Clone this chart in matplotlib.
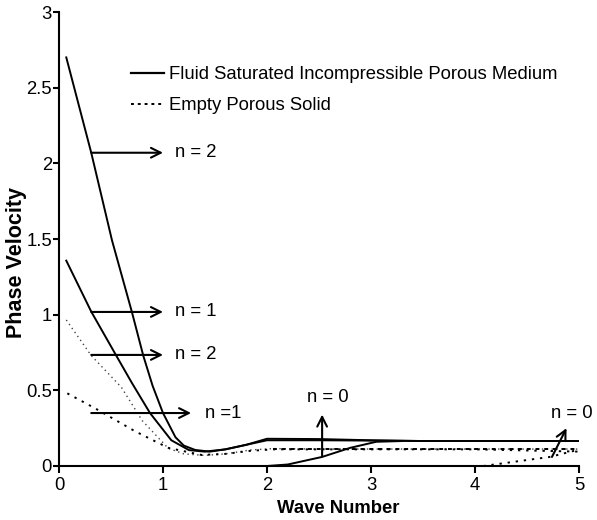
import matplotlib
matplotlib.use("Agg")
import matplotlib.pyplot as plt
from matplotlib.ticker import FuncFormatter

plt.rcParams['font.family'] = ['Liberation Sans', 'DejaVu Sans']

# Fluid saturated incompressible porous medium (solid lines)
fluid_n2_x = [0.07, 0.31, 0.51, 0.70, 0.81, 0.90, 1.00, 1.12, 1.20, 1.31, 1.45, 1.60, 1.80, 2.00, 2.50, 3.00, 3.50, 4.00, 5.00]
fluid_n2_y = [2.70, 2.07, 1.49, 1.02, 0.73, 0.53, 0.35, 0.19, 0.135, 0.106, 0.095, 0.11, 0.14, 0.18, 0.178, 0.17, 0.165, 0.165, 0.165]
fluid_n1_x = [0.07, 0.31, 0.55, 0.70, 0.875, 1.08, 1.25, 1.40, 1.60, 1.80, 2.00, 2.50, 3.00, 3.50, 4.00, 5.00]
fluid_n1_y = [1.357, 1.02, 0.73, 0.55, 0.35, 0.17, 0.105, 0.095, 0.11, 0.14, 0.17, 0.17, 0.168, 0.165, 0.165, 0.165]
fluid_n0_x = [2.00, 2.20, 2.53, 2.80, 3.05, 3.30]
fluid_n0_y = [0.00, 0.01, 0.06, 0.12, 0.16, 0.165]

# Empty porous solid (dotted lines)
empty_n2_x = [0.07, 0.31, 0.60, 0.80, 1.05, 1.20, 1.40, 1.60, 1.84, 2.06, 2.50, 3.00, 4.00, 5.00]
empty_n2_y = [0.965, 0.73, 0.52, 0.30, 0.117, 0.08, 0.07, 0.08, 0.106, 0.115, 0.112, 0.112, 0.112, 0.112]
empty_n1_x = [0.08, 0.35, 0.73, 1.05, 1.37, 1.60, 1.84, 2.06, 3.00, 4.00, 5.00]
empty_n1_y = [0.48, 0.38, 0.23, 0.12, 0.073, 0.08, 0.10, 0.11, 0.11, 0.11, 0.095]
empty_n0_x = [4.08, 4.40, 4.72, 4.98]
empty_n0_y = [0.00, 0.03, 0.06, 0.105]

legend_labels = ["Fluid Saturated Incompressible Porous Medium", "Empty Porous Solid"]

fig = plt.figure(figsize=(5.97, 5.20), dpi=100)
ax = fig.add_axes([59/597, 54/520, 520/597, 454/520])

lw = 1.4
ax.plot(fluid_n2_x, fluid_n2_y, color='black', lw=lw)
ax.plot(fluid_n1_x, fluid_n1_y, color='black', lw=lw)
ax.plot(fluid_n0_x, fluid_n0_y, color='black', lw=lw)
ax.plot(empty_n2_x, empty_n2_y, color='#444444', lw=1.0, ls=(0, (1, 2.5)))
ax.plot(empty_n1_x, empty_n1_y, color='black', lw=1.4, ls=(0, (1.2, 3)))
ax.plot(empty_n0_x, empty_n0_y, color='black', lw=1.4, ls=(0, (1.2, 3)))
ax.plot([2.06, 5.0], [0.112, 0.112], color='black', lw=1.4, ls=(0, (2, 2.5)))

ax.set_xlim(0, 5)
ax.set_ylim(0, 3)
ax.set_xticks([0, 1, 2, 3, 4, 5])
ax.set_yticks([0, 0.5, 1, 1.5, 2, 2.5, 3])
ax.yaxis.set_major_formatter(FuncFormatter(lambda v, p: f"{v:g}"))
for s in ['top', 'right']:
    ax.spines[s].set_visible(False)
for s in ['left', 'bottom']:
    ax.spines[s].set_linewidth(1.5)
ax.tick_params(axis='both', direction='out', width=1.5, labelsize=13.3)
ax.tick_params(axis='y', length=4, pad=1)
ax.tick_params(axis='x', length=5, pad=3)
ax.set_xlabel("Wave Number", fontsize=13.3, fontweight='bold')
ax.xaxis.set_label_coords(0.537, -0.075)
ax.set_ylabel("Phase Velocity", fontsize=15.5, fontweight='bold')
ax.yaxis.set_label_coords(-0.062, 0.449)

# legend
h_solid, = ax.plot([], [], color='black', lw=1.6)
h_dot, = ax.plot([], [], color='black', lw=1.4, ls=(0, (1.5, 2)))
leg = ax.legend([h_solid, h_dot], legend_labels, loc='upper left', bbox_to_anchor=(0.124, 0.897),
                frameon=False, fontsize=13.3, handlelength=1.8, handletextpad=0.27,
                labelspacing=0.75, borderaxespad=0)

ap = dict(arrowstyle='->,head_length=0.7,head_width=0.35', color='black', lw=1.5, shrinkA=0, shrinkB=0)
fs = 13.3
ax.annotate('', xy=(1.0, 2.07), xytext=(0.31, 2.07), arrowprops=ap)
ax.text(1.115, 2.07, 'n = 2', fontsize=fs, va='center', ha='left')
ax.annotate('', xy=(1.0, 1.018), xytext=(0.31, 1.018), arrowprops=ap)
ax.text(1.115, 1.018, 'n = 1', fontsize=fs, va='center', ha='left')
ax.annotate('', xy=(1.0, 0.734), xytext=(0.31, 0.734), arrowprops=ap)
ax.text(1.115, 0.734, 'n = 2', fontsize=fs, va='center', ha='left')
ax.annotate('', xy=(1.27, 0.35), xytext=(0.31, 0.35), arrowprops=ap)
ax.text(1.40, 0.35, 'n =1', fontsize=fs, va='center', ha='left')
ax.annotate('', xy=(2.53, 0.34), xytext=(2.53, 0.063), arrowprops=ap)
ax.text(2.58, 0.45, 'n = 0', fontsize=fs, va='center', ha='center')
ax.annotate('', xy=(4.88, 0.25), xytext=(4.74, 0.06), arrowprops=ap)
ax.text(4.735, 0.35, 'n = 0', fontsize=fs, va='center', ha='left', clip_on=False)

fig.savefig('out.png', dpi=100)
